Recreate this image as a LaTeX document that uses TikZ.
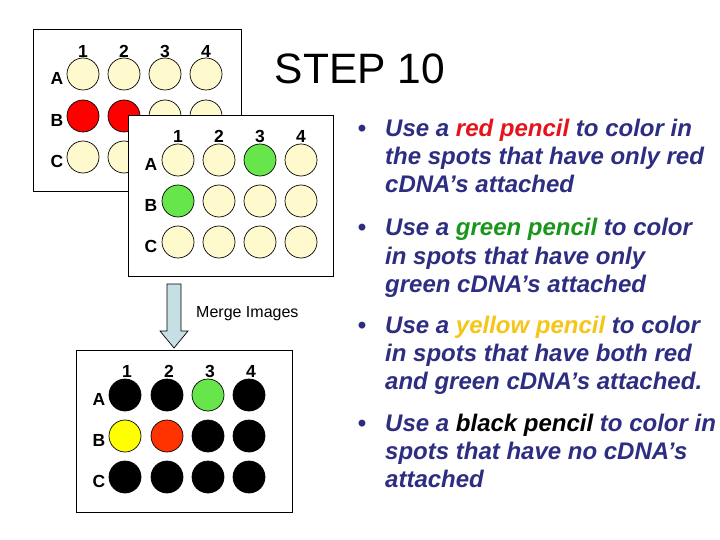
\documentclass[tikz,border=0pt]{standalone}
\usepackage{fontspec}
\setmainfont{Liberation Sans}
\definecolor{cream}{RGB}{255,250,205}
\definecolor{spotgreen}{RGB}{102,230,74}
\definecolor{spotred}{RGB}{255,0,0}
\definecolor{mergered}{RGB}{255,51,0}
\definecolor{spotyellow}{RGB}{255,255,0}
\definecolor{navy}{RGB}{45,45,130}
\definecolor{txtred}{RGB}{230,20,26}
\definecolor{txtgreen}{RGB}{26,150,26}
\definecolor{txtyellow}{RGB}{245,197,24}
\definecolor{arrowblue}{RGB}{197,223,228}
\begin{document}
\begin{tikzpicture}[x=1pt,y=-1pt,
  plate/.style={draw=black, fill=white, line width=0.8pt, inner sep=0pt},
  spot/.style={circle, draw=black, line width=0.7pt, minimum size=32pt, inner sep=0pt},
  lbl/.style={font=\bfseries\fontsize{17.5}{17.5}\selectfont, inner sep=0pt},
  line/.style={anchor=base west, inner sep=0pt, text=navy, font=\fontsize{24}{28}\selectfont\bfseries\itshape},
  bul/.style={anchor=base, inner sep=0pt, text=navy, font=\fontsize{24}{28}\selectfont\bfseries}
]
\useasboundingbox[fill=white] (0,0) rectangle (720,540);

% title
\node[inner sep=0pt, anchor=base, font=\fontsize{42.5}{42.5}\selectfont] (title) at (360,84) {STEP 10};

% plate 1 (red scan)
\node[plate, minimum width=208pt, minimum height=162pt] (plate1) at (137,110) {};
\foreach \c/\x in {1/83,2/124,3/165,4/206}
  \node[lbl] (p1-n\c) at (\x,51) {\c};
\foreach \r/\y/\ka/\kb/\kc/\kd in {A/74/cream/cream/cream/cream, B/116/spotred/spotred/cream/cream, C/157/cream/cream/cream/cream}{
  \node[lbl] (p1-l\r) at (57,\y+4) {\r};
  \foreach \c/\x/\k in {1/83/\ka,2/124/\kb,3/165/\kc,4/206/\kd}
    \node[spot, fill=\k] (p1-\r\c) at (\x,\y) {};
}

% plate 2 (green scan)
\node[plate, minimum width=205pt, minimum height=161pt] (plate2) at (230.5,195.5) {};
\foreach \c/\x in {1/178,2/219,3/260,4/301}
  \node[lbl] (p2-n\c) at (\x,136) {\c};
\foreach \r/\y/\ka/\kb/\kc/\kd in {A/160/cream/cream/spotgreen/cream, B/201/spotgreen/cream/cream/cream, C/242/cream/cream/cream/cream}{
  \node[lbl] (p2-l\r) at (151,\y+4) {\r};
  \foreach \c/\x/\k in {1/178/\ka,2/219/\kb,3/260/\kc,4/301/\kd}
    \node[spot, fill=\k] (p2-\r\c) at (\x,\y) {};
}

% merge arrow
\coordinate (mtop) at (174,284);
\coordinate (mtip) at (174,348);
\draw[fill=arrowblue, line width=0.7pt]
  ([xshift=-7pt]mtop) -- ([xshift=7pt]mtop) -- ([xshift=7pt,yshift=17pt]mtip)
  -- ([xshift=14pt,yshift=17pt]mtip) -- (mtip) -- ([xshift=-14pt,yshift=17pt]mtip)
  -- ([xshift=-7pt,yshift=17pt]mtip) -- cycle;
\node[inner sep=0pt, anchor=base west, font=\fontsize{16}{16}\selectfont] (merge) at (196,317) {Merge Images};

% plate 3 (merged)
\node[plate, minimum width=216pt, minimum height=162pt] (plate3) at (184,431) {};
\foreach \c/\x in {1/127,2/169,3/210,4/251}
  \node[lbl] (p3-n\c) at (\x,371) {\c};
\foreach \r/\y/\ka/\kb/\kc/\kd in {A/395/black/black/spotgreen/black, B/436/spotyellow/mergered/black/black, C/477/black/black/black/black}{
  \node[lbl] (p3-l\r) at (99,\y+4) {\r};
  \foreach \c/\x/\k in {1/125/\ka,2/167/\kb,3/208/\kc,4/249/\kd}
    \node[spot, fill=\k] (p3-\r\c) at (\x,\y) {};
}

% bullets
\foreach \b/\y in {1/137,2/236,3/333,4/431}
  \node[bul] (bul\b) at (362,\y) {•};
\node[line] (t1a) at (385,137) {Use a \textcolor{txtred}{red pencil} to color in};
\node[line] (t1b) at (385,165) {the spots that have only red};
\node[line] (t1c) at (385,193) {cDNA’s attached};
\node[line] (t2a) at (385,236) {Use a \textcolor{txtgreen}{green pencil} to color};
\node[line] (t2b) at (385,264) {in spots that have only};
\node[line] (t2c) at (385,292) {green cDNA’s attached};
\node[line] (t3a) at (385,333) {Use a \textcolor{txtyellow}{yellow pencil} to color};
\node[line] (t3b) at (385,361) {in spots that have both red};
\node[line] (t3c) at (385,389) {and green cDNA’s attached.};
\node[line] (t4a) at (385,431) {Use a \textcolor{black}{black pencil} to color in};
\node[line] (t4b) at (385,459) {spots that have no cDNA’s};
\node[line] (t4c) at (385,487) {attached};
\end{tikzpicture}
\end{document}
